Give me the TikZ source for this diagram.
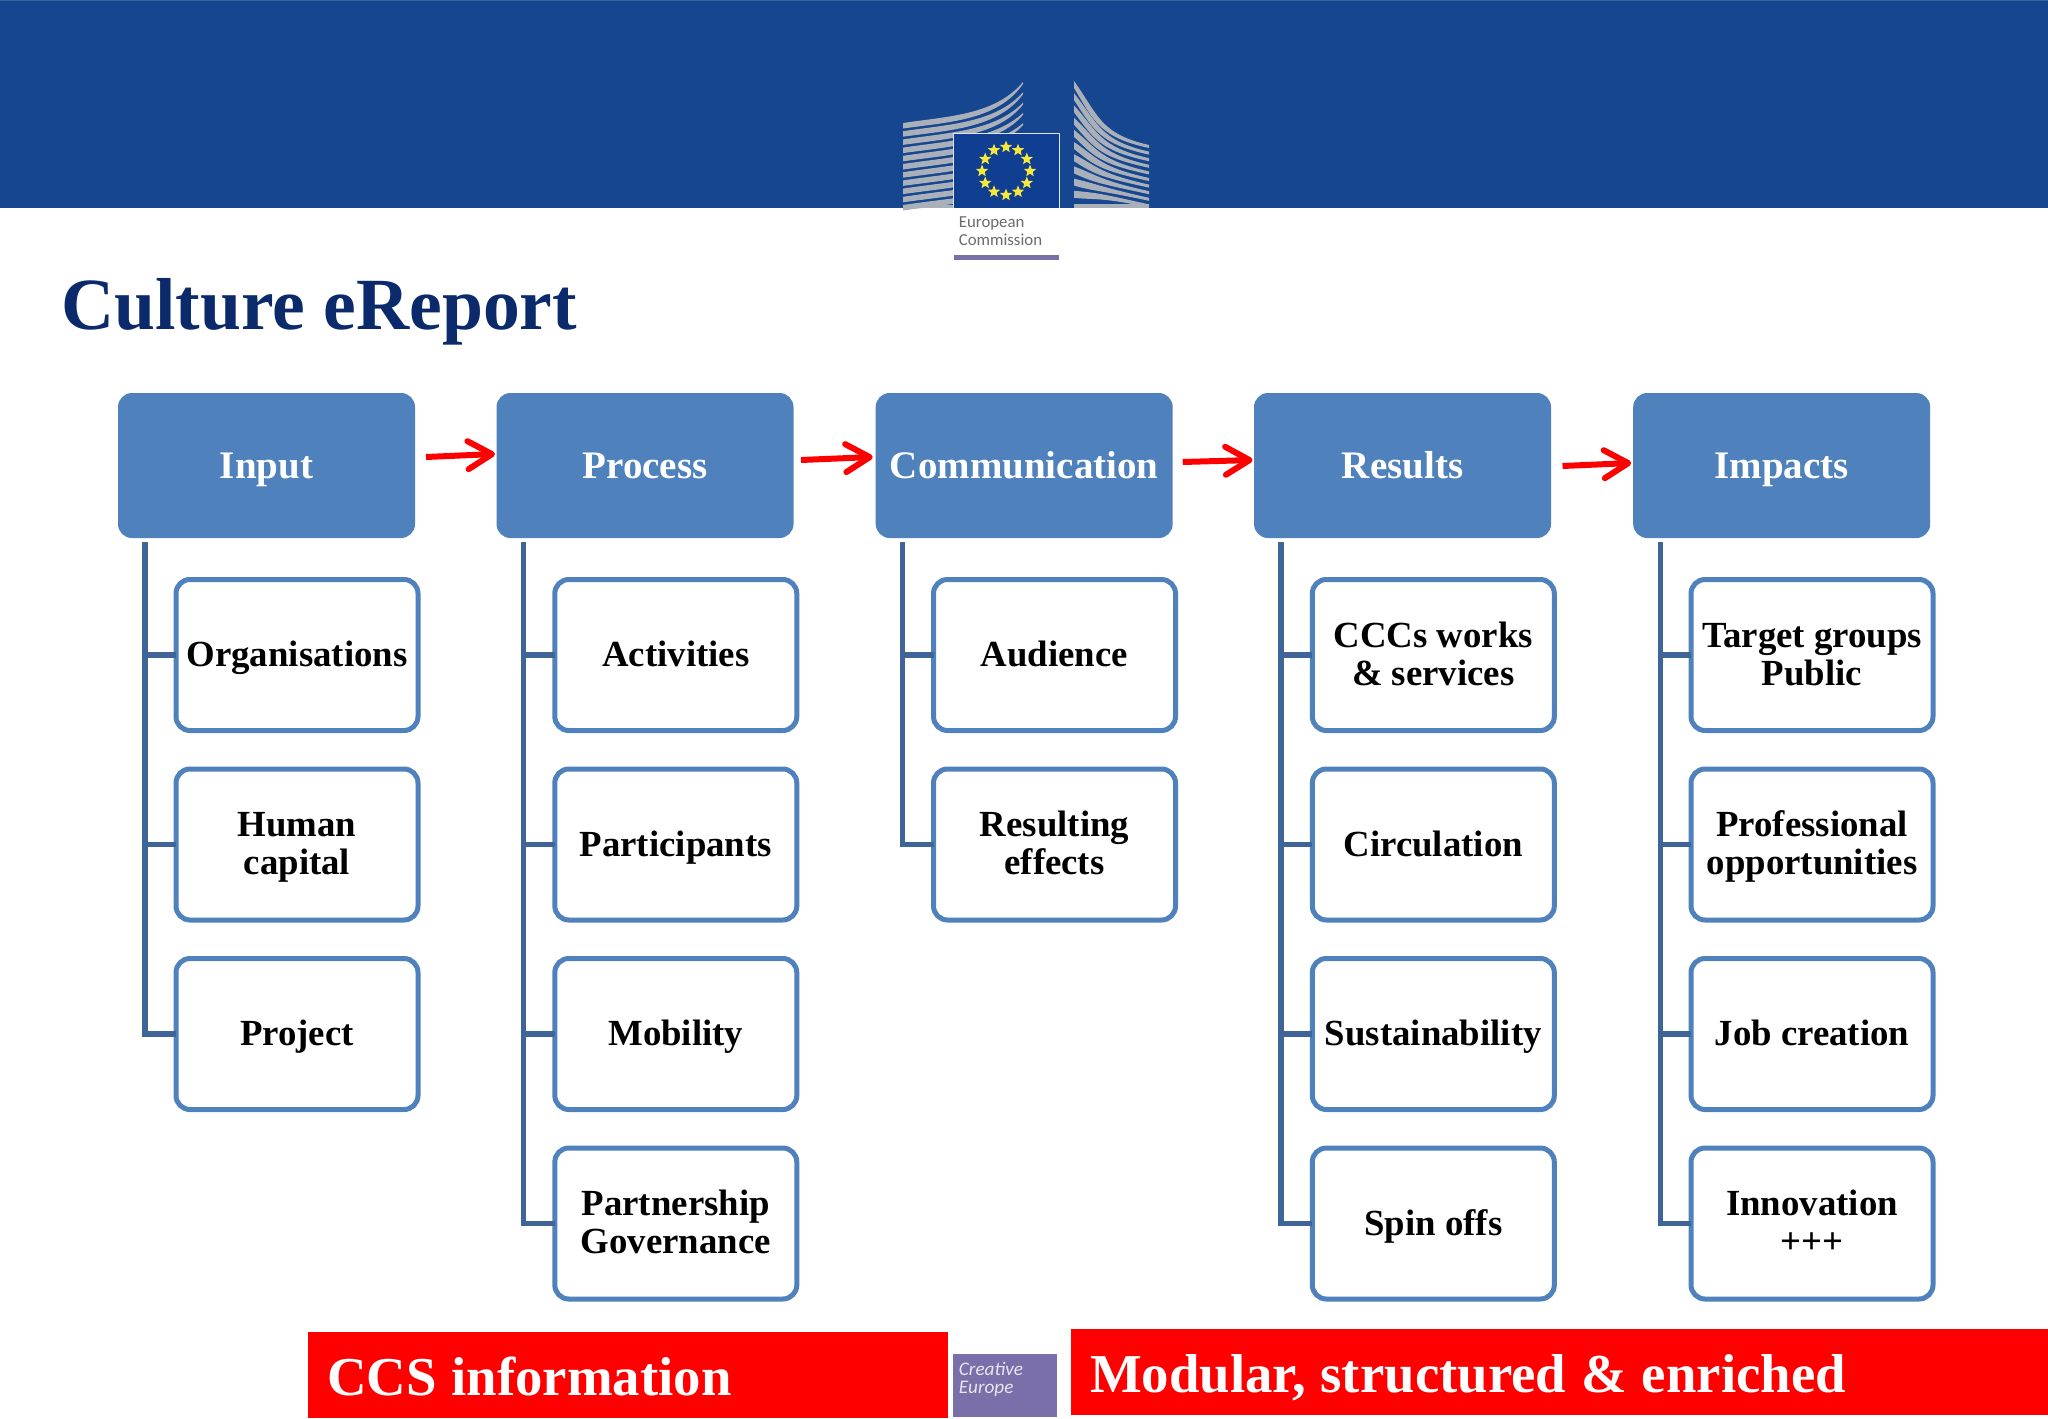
\documentclass[tikz,border=0pt]{standalone}
\usepackage{fontspec}
\setmainfont[Ligatures=NoCommon]{Liberation Serif}
\newfontfamily\logofont{Carlito}
\usetikzlibrary{arrows.meta,calc,shapes.geometric}
\definecolor{bandblue}{HTML}{15468F}
\definecolor{flagblue}{HTML}{103F92}
\definecolor{stripegrey}{HTML}{A9B0BA}
\definecolor{staryellow}{HTML}{F6E83C}
\definecolor{titleblue}{HTML}{0B2A6B}
\definecolor{boxblue}{HTML}{4F81BD}
\definecolor{trunkblue}{HTML}{3F6598}
\definecolor{ecpurple}{HTML}{7A6FA8}
\newcommand\cstrut{\rule[-4.5pt]{0pt}{20.5pt}}
\newcommand\twol[2]{\raisebox{-9.25pt}[0pt][0pt]{\begin{tabular}[b]{@{}c@{}}#1\\#2\end{tabular}}}
\newcommand\bannerspace{\spaceskip=7.5pt\relax}
\tikzset{
  headbox/.style={rectangle,rounded corners=7pt,fill=boxblue,outer sep=0pt,inner sep=0pt,
    minimum width=148.5pt,minimum height=72.5pt,text=white,text height=15pt,text depth=2.5pt,
    font=\fontsize{19.5}{23}\selectfont\bfseries},
  childbox/.style={rectangle,rounded corners=7pt,draw=boxblue,line width=2.5pt,fill=white,outer sep=0pt,inner sep=0pt,
    minimum width=121pt,minimum height=75.5pt,text=black,
    execute at begin node=\cstrut,
    font=\fontsize{18.4}{19}\selectfont\bfseries},
  trunk/.style={draw=trunkblue,line width=2.6pt},
  flowarrow/.style={draw=red,line width=3pt,-{Straight Barb[length=12pt,width=14pt,round,line width=3pt]}},
  redbanner/.style={rectangle,fill=red,outer sep=0pt,inner ysep=0pt,inner xsep=9.5pt,align=left,text=white,
    execute at begin node=\bannerspace,
    font=\fontsize{27.4}{30}\selectfont\bfseries},
  ecstar/.style={star,star points=5,star point ratio=2.3,fill=staryellow,inner sep=0pt,minimum size=6.4pt},
}
\begin{document}
\begin{tikzpicture}[x=0.5pt,y=-0.5pt]
\useasboundingbox (0,0) rectangle (2048,1418);
\fill[white] (0,0) rectangle (2048,1418);
% header band
\fill[bandblue] (0,0) rectangle (2048,208);
\fill[bandblue!85!white] (0,0) rectangle (2048,1.5);
% left building
\foreach \i in {0,...,10}{
  \pgfmathsetmacro{\yl}{123+8.2*\i}
  \pgfmathsetmacro{\yr}{82+10.3*\i}
  \pgfmathsetmacro{\ya}{\yl-7}
  \pgfmathsetmacro{\yb}{\yl-8-0.2*\i}
  \pgfmathsetmacro{\yc}{\yl-1}
  \pgfmathsetmacro{\yd}{\yl-3-0.2*\i}
  \fill[stripegrey] (903,\yl) .. controls (950,\ya) and (995,\yb) .. (1023,\yr)
     -- (1023,\yr+2) .. controls (998,\yd) and (950,\yc) .. (903,\yl+5.5) -- cycle;
}
\fill[stripegrey] (903,204.5) rectangle (953,208);
% right building
\foreach \i in {0,...,9}{
  \pgfmathsetmacro{\yl}{81+12.2*\i}
  \pgfmathsetmacro{\yr}{145+6.6*\i}
  \pgfmathsetmacro{\ya}{\yl+0.62*(\yr-10-\yl)}
  \pgfmathsetmacro{\yb}{\yr-11}
  \pgfmathsetmacro{\yc}{\yb+3.5}
  \pgfmathsetmacro{\yd}{\ya+7}
  \fill[stripegrey] (1074,\yl) .. controls (1098,\ya) and (1100,\yb) .. (1149,\yr)
     -- (1149,\yr+3) .. controls (1100,\yc) and (1094,\yd) .. (1074,\yl+7) -- cycle;
}
\fill[stripegrey] (1074,204) rectangle (1149,208);
% flag
\fill[flagblue] (953,133) rectangle (1060,208);
\draw[draw=white!80!boxblue,line width=0.75pt] (953.5,208) -- (953.5,133.5) -- (1059.5,133.5) -- (1059.5,208);
\foreach \i in {1,...,12}{
  \node[ecstar] (star\i) at ({1006+24*cos(30*\i)},{171+24*sin(30*\i)}) {};
}
\node[anchor=base west,inner sep=0pt,text=black!58,font=\logofont\fontsize{8.4}{9}\selectfont] (ectext1) at (958.5,227) {European};
\node[anchor=base west,inner sep=0pt,text=black!58,font=\logofont\fontsize{8.4}{9}\selectfont] (ectext2) at (958.5,245) {Commission};
\fill[ecpurple] (954,255) rectangle (1059,260);
% title
\node[anchor=base west,inner sep=0pt,text=titleblue,font=\fontsize{36.8}{40}\selectfont\bfseries] (title) at (61,329) {Culture eReport};
% heads
\node[headbox] (h1) at (266.5,465.5) {Input};
\node[headbox] (h2) at (645,465.5) {Process};
\node[headbox] (h3) at (1024.2,465.5) {Communication};
\node[headbox] (h4) at (1402.5,465.5) {Results};
\node[headbox] (h5) at (1781.7,465.5) {Impacts};
% arrows
\draw[flowarrow] ($(h1.east)+(11,-8.5)$) -- ($(h2.west)+(-1.5,-11.5)$);
\draw[flowarrow] ($(h2.east)+(7.5,-5.5)$) -- ($(h3.west)+(-3,-8.5)$);
\draw[flowarrow] ($(h3.east)+(10,-3.5)$) -- ($(h4.west)+(-1.5,-5.5)$);
\draw[flowarrow] ($(h4.east)+(11.5,0.5)$) -- ($(h5.west)+(-2,-2.5)$);
% children
\node[childbox] (a1) at (297,655) {Organisations};
\node[childbox] (a2) at (297,844.5) {\twol{Human}{capital}};
\node[childbox] (a3) at (297,1034) {Project};
\node[childbox] (b1) at (675.8,655) {Activities};
\node[childbox] (b2) at (675.8,844.5) {Participants};
\node[childbox] (b3) at (675.8,1034) {Mobility};
\node[childbox] (b4) at (675.8,1223.5) {\twol{Partnership}{Governance}};
\node[childbox] (c1) at (1054.5,655) {Audience};
\node[childbox] (c2) at (1054.5,844.5) {\twol{Resulting}{effects}};
\node[childbox] (d1) at (1433.3,655) {\twol{CCCs works}{\& services}};
\node[childbox] (d2) at (1433.3,844.5) {Circulation};
\node[childbox] (d3) at (1433.3,1034) {Sustainability};
\node[childbox] (d4) at (1433.3,1223.5) {Spin offs};
\node[childbox] (e1) at (1812,655) {\twol{Target groups}{Public}};
\node[childbox] (e2) at (1812,844.5) {\twol{Professional}{opportunities}};
\node[childbox] (e3) at (1812,1034) {Job creation};
\node[childbox] (e4) at (1812,1223.5) {\twol{Innovation}{+++}};
% trunks
\foreach \h/\list in {h1/{a1,a2,a3},h2/{b1,b2,b3,b4},h3/{c1,c2},h4/{d1,d2,d3,d4},h5/{e1,e2,e3,e4}}{
  \foreach \c in \list {
    \draw[trunk] ($(\h.south west)+(27,4)$) |- (\c.west);
  }
}
% bottom
\node[redbanner,text width=301pt,minimum height=43pt,text height=22pt,text depth=2pt] (ccs) at (628,1375) {CCS information};
\node[redbanner,text width=469.5pt,minimum height=43pt,text height=22pt,text depth=2pt] (mod) at (1559.5,1372) {Modular, structured \& enriched};
\node[rectangle,fill=ecpurple,outer sep=0pt,inner sep=0pt,minimum width=52pt,minimum height=31.5pt] (cebox) at (1005,1385.5) {};
\node[anchor=base west,inner sep=0pt,text=white!82!ecpurple,font=\logofont\itshape\fontsize{9.6}{10}\selectfont] (cet1) at (958.5,1375) {Creative};
\node[anchor=base west,inner sep=0pt,text=white!82!ecpurple,font=\logofont\itshape\fontsize{9.6}{10}\selectfont] (cet2) at (958.5,1393) {Europe};
\end{tikzpicture}
\end{document}
